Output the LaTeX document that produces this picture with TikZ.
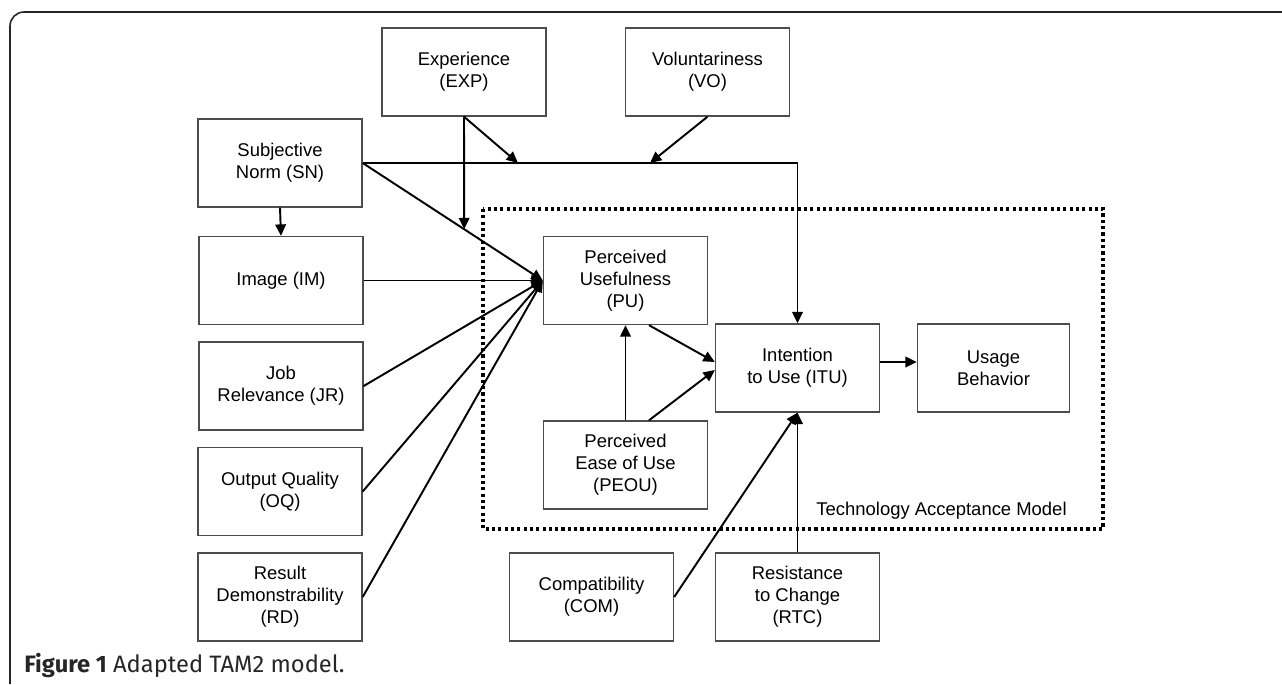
\documentclass[tikz,border=0pt]{standalone}
\usepackage{fontspec}
\setmainfont{Liberation Sans}
\newfontfamily\capfont{Fira Sans}
\usetikzlibrary{arrows.meta,calc}

\tikzset{
  box/.style={draw=black!70, line width=0.8pt, minimum width=3.28cm, minimum height=1.76cm,
    align=center, inner sep=0pt, font=\fontsize{10.5}{12.5}\selectfont},
  arr/.style={line width=1.1pt, -{Triangle[length=6.5pt,width=6pt]}},
  tam/.style={line width=1.8pt, dash pattern=on 1.8pt off 1.8pt},
}

\begin{document}
\begin{tikzpicture}[x=0.02cm,y=-0.02cm]
\useasboundingbox (0,0) rectangle (1282,684);
%cadre de la figure
\draw[line width=0.9pt, black!85, rounded corners=8pt] (10,684) -- (10,12) -- (1282,12);

%les facteurs externes
\node[box] (EXP) at (464,72) {Experience\\(EXP)};
\node[box] (VO) at (707.5,72) {Voluntariness\\(VO)};
\node[box] (SN) at (280,163) {Subjective\\Norm (SN)};
\node[box] (IM) at (281,280.5) {Image (IM)};
\node[box] (JR) at (281,386) {Job\\Relevance (JR)};
\node[box] (OQ) at (280,491.5) {Output Quality\\(OQ)};
\node[box] (RD) at (280,597) {Result\\Demonstrability\\(RD)};
\node[box] (COM) at (591.5,597) {Compatibility\\(COM)};
\node[box] (RTC) at (797.5,597) {Resistance\\to Change\\(RTC)};

%le modele TAM
\node[box] (PU) at (625.5,280.5) {Perceived\\Usefulness\\(PU)};
\node[box] (PEOU) at (625.5,465) {Perceived\\Ease of Use\\(PEOU)};
\node[box] (ITU) at (797.5,368) {Intention\\to Use (ITU)};
\node[box, minimum width=3.04cm] (UB) at (993.5,368) {Usage\\Behavior};
\draw[tam] (483,209) rectangle (1103,529);
\node[anchor=east, inner sep=0pt, font=\fontsize{10.5}{12.5}\selectfont] (tamlabel) at (1067,511) {Technology Acceptance Model};

%fleches
\coordinate (corner) at (ITU.north |- SN.east);
\coordinate (expmod) at (518,163);
\coordinate (vomod) at (650,163);
\coordinate (expsn) at ($(SN.east)!0.5635!(PU.west)$);
\draw[arr] (SN.south) -- (IM.north);
\draw[arr] (SN.east) -- (corner) -- (ITU.north);
\draw[arr] (EXP.south) -- (expmod);
\draw[arr] (EXP.south) -- (expsn);
\draw[arr] (VO.south) -- (vomod);
\foreach \n in {SN,IM,JR,OQ,RD}
  \draw[arr] (\n.east) -- (PU.west);
\draw[arr] (PEOU.north) -- (PU.south);
\draw[arr] ([xshift=0.47cm]PU.south) -- ([yshift=0.12cm]ITU.west);
\draw[arr] ([xshift=0.47cm]PEOU.north) -- ([yshift=-0.04cm]ITU.west);
\draw[arr] ([yshift=0.12cm]ITU.east) -- ([yshift=0.12cm]UB.west);
\draw[arr] (COM.east) -- (ITU.south);
\draw[arr] (RTC.north) -- (ITU.south);

%legende
\node[anchor=base west, inner sep=0pt, black!85, font=\capfont\fontsize{13.5}{15}\selectfont] (caption) at (24,672) {\textbf{Figure 1} Adapted TAM2 model.};
\end{tikzpicture}
\end{document}
